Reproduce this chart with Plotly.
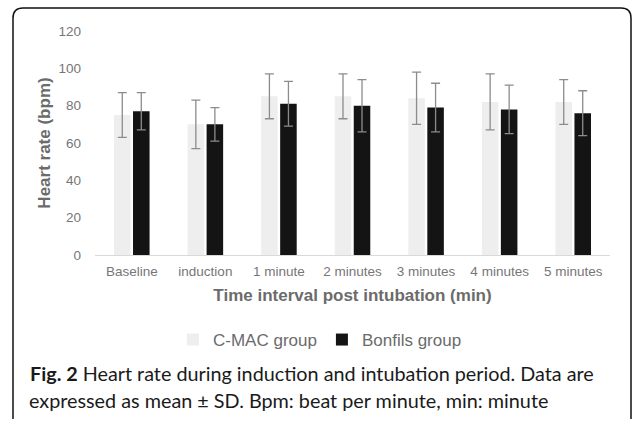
import plotly.graph_objects as go

categories = ["Baseline", "induction", "1 minute", "2 minutes", "3 minutes", "4 minutes", "5 minutes"]
cmac_mean = [75, 70, 85, 85, 84, 82, 82]
cmac_sd = [12, 13, 12, 12, 14, 15, 12]
bonfils_mean = [77, 70, 81, 80, 79, 78, 76]
bonfils_sd = [10, 9, 12, 14, 13, 13, 12]
y_ticks = [0, 20, 40, 60, 80, 100, 120]

W, H = 634, 421
L, R, T, B = 95, 24, 31, 166
pw, ph = W - L - R, H - T - B

def px(x):
    return (x - L) / pw

def py(y):
    return (H - B - y) / ph

err_color = "#8c8c8c"
fig = go.Figure()
fig.add_trace(go.Bar(
    x=categories, y=cmac_mean, name="C-MAC group",
    marker=dict(color="#edeeed", line=dict(width=0)),
    error_y=dict(type="data", array=cmac_sd, color=err_color, thickness=1.3, width=4.5),
))
fig.add_trace(go.Bar(
    x=categories, y=bonfils_mean, name="Bonfils group",
    marker=dict(color="#141414", line=dict(width=0)),
    error_y=dict(type="data", array=bonfils_sd, color=err_color, thickness=1.3, width=4.5),
))

font_axis = "Liberation Sans, Arial, sans-serif"
fig.update_layout(
    width=W, height=H,
    margin=dict(l=L, r=R, t=T, b=B, pad=0),
    paper_bgcolor="white", plot_bgcolor="white",
    barmode="group", bargap=0.483, bargroupgap=0.13,
    font=dict(family=font_axis, color="#767676", size=13.5),
    showlegend=True,
    legend=dict(orientation="h", x=px(320), y=py(340), xanchor="center", yanchor="middle",
                font=dict(size=17, color="#6b6b6b"), itemwidth=30, tracegroupgap=0,
                bgcolor="rgba(0,0,0,0)"),
    xaxis=dict(showgrid=False, showline=True, linecolor="#d9d9d9", linewidth=1,
               ticks="", ticklabelstandoff=4, tickfont=dict(size=13.5, color="#767676"),
               title=dict(text="<b>Time interval post intubation (min)</b>",
                          font=dict(size=17, color="#6b6b6b"), standoff=10)),
    yaxis=dict(range=[0, 120], tickvals=y_ticks, showgrid=False, zeroline=False,
               showline=False, ticks="", ticklabelstandoff=13,
               tickfont=dict(size=13.5, color="#767676"),
               title=dict(text="<b>Heart rate (bpm)</b>",
                          font=dict(size=17, color="#6b6b6b"), standoff=3)),
)

cap_font = dict(family="Lato, Noto Sans, sans-serif", size=19.8, color="#1a1a1a")
fig.add_annotation(xref="paper", yref="paper", x=px(28), y=py(373), xanchor="left", yanchor="middle",
                   text="<b>Fig. 2</b> Heart rate during induction and intubation period. Data are",
                   showarrow=False, font=cap_font)
fig.add_annotation(xref="paper", yref="paper", x=px(27), y=py(400), xanchor="left", yanchor="middle",
                   text="expressed as mean ± SD. Bpm: beat per minute, min: minute",
                   showarrow=False, font=cap_font)

# rounded frame
x0, y0, x1, y1, r = 13, 8, 631, 419, 10
def P(x, y):
    return f"{px(x):.5f},{py(y):.5f}"
path = (f"M {P(x0, y1)} L {P(x0, y0 + r)} Q {P(x0, y0)} {P(x0 + r, y0)} "
        f"L {P(x1 - r, y0)} Q {P(x1, y0)} {P(x1, y0 + r)} L {P(x1, y1)}")
fig.add_shape(type="path", xref="paper", yref="paper", path=path,
              line=dict(color="#111111", width=1.5), layer="above")

fig.write_html("out.html", config={"displayModeBar": False},
               post_script="document.body.style.margin='0';document.body.style.overflow='hidden';")
